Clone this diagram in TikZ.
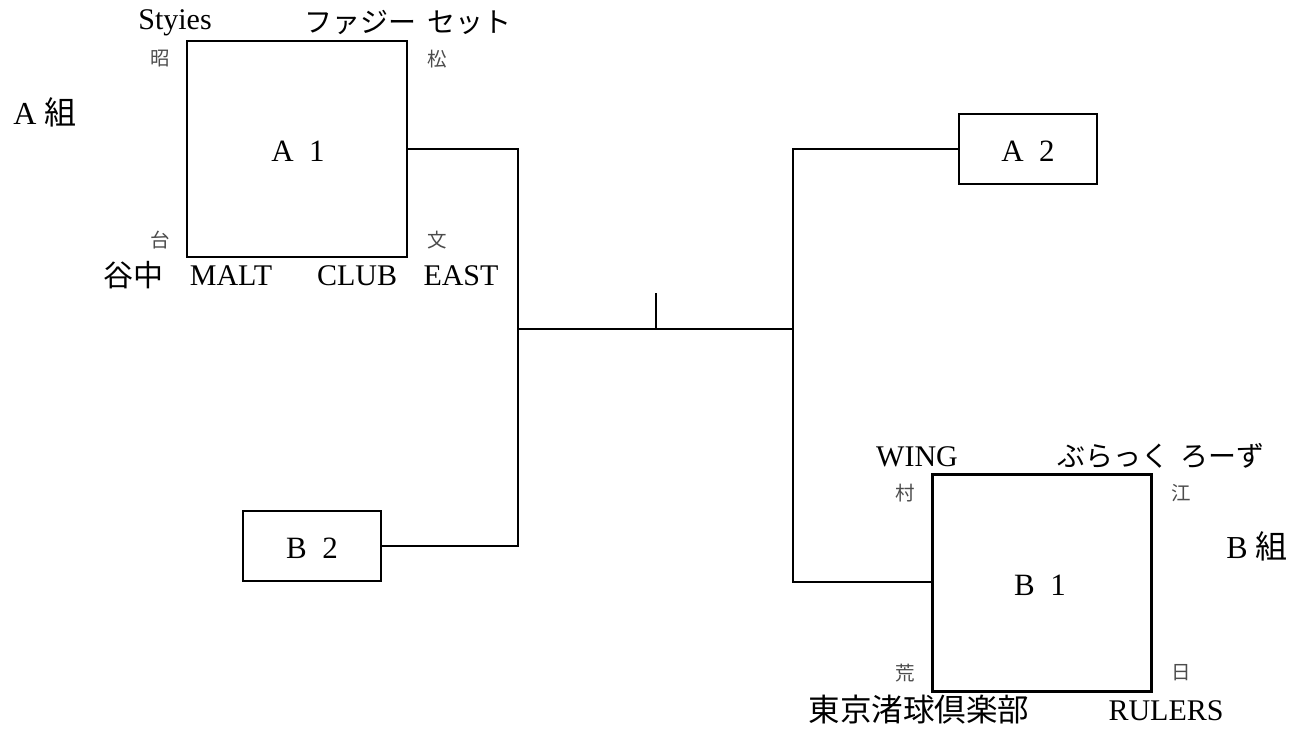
\documentclass[tikz,border=0pt]{standalone}
\usepackage{fontspec}
\setmainfont{Liberation Serif}
\newfontfamily\jp{Noto Sans CJK JP}
\begin{document}
\begin{tikzpicture}[x=1pt,y=-1pt,
  lbl/.style={font=\fontsize{#1}{#1}\selectfont,inner sep=0pt,anchor=center},
  lbl/.default=30,
  boxst/.style={draw,line width=2.4pt,inner sep=0pt},
  sm/.style={font=\jp\fontsize{19.5}{21}\selectfont,text=black!70,inner sep=0pt},
  wire/.style={line width=2.2pt}]
\useasboundingbox (0,0) rectangle (1305,731);
% boxes
\node[boxst,minimum width=220pt,minimum height=216pt] (A1) at (297,149) {};
\node[lbl=31] at (298,151) {A\hspace{0.5em}1};
\node[boxst,minimum width=138pt,minimum height=70pt] (A2) at (1028,149) {};
\node[lbl=31] at (1028,151) {A\hspace{0.5em}2};
\node[boxst,minimum width=138pt,minimum height=70pt] (B2) at (312,546) {};
\node[lbl=31] at (312,548) {B\hspace{0.5em}2};
\node[boxst,minimum width=219pt,minimum height=217pt] (B1) at (1042,583) {};
\node[lbl=31] at (1040,585) {B\hspace{0.5em}1};
% junctions
\coordinate (jl) at (518,329);
\coordinate (jr) at (793,329);
\coordinate (tick) at (656,293);
\coordinate (tb) at (656,329);
\draw[wire] (A1.east |- 0,149) -| (jl) |- (B2.east |- 0,546);
\draw[wire] (A2.west |- 0,149) -| (jr) |- (B1.west |- 0,582);
\draw[wire] (jl) -- (jr);
\draw[wire] (tick) -- (tb);
% group labels
\node[lbl=32] (ga) at (45,112) {A {\jp 組}};
\node[lbl=32] (gb) at (1257,546) {B {\jp 組}};
% A1 team names
\node[lbl] (t1) at (175,23) {Styies};
\node[lbl=28] (t2) at (408,22) {\jp ファジー\hspace{0.4em}セット};
\node[lbl=30] (t3) at (133,275) {\jp 谷中};
\node[lbl] (t4) at (231,276) {MALT};
\node[lbl] (t5) at (357,276) {CLUB};
\node[lbl] (t6) at (461,276) {EAST};
\node[sm] (s1) at (160,59) {昭};
\node[sm] (s2) at (437,59) {松};
\node[sm] (s3) at (160,240) {台};
\node[sm] (s4) at (437,240) {文};
% B1 team names
\node[lbl] (u1) at (917,457) {WING};
\node[lbl=28] (u2) at (1161,456) {\jp ぶらっく\hspace{0.4em}ろーず};
\node[lbl=31.5] (u3) at (919,710) {\jp 東京渚球倶楽部};
\node[lbl] (u4) at (1166,711) {RULERS};
\node[sm] (v1) at (905,493) {村};
\node[sm] (v2) at (1181,493) {江};
\node[sm] (v3) at (905,673) {荒};
\node[sm] (v4) at (1181,673) {日};
\end{tikzpicture}
\end{document}
